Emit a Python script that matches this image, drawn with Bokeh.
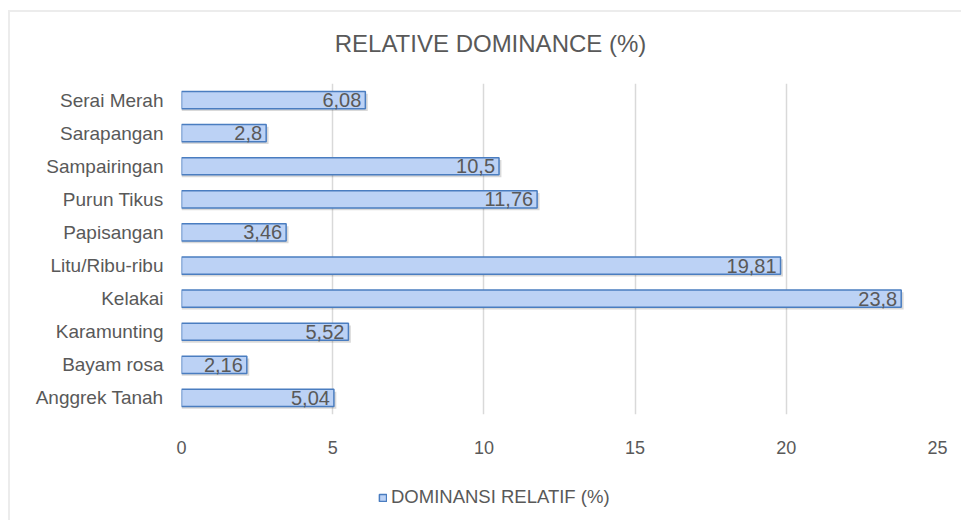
from bokeh.plotting import figure
from bokeh.models import ColumnDataSource, Legend, LegendItem, FactorRange, Range1d, Label
from bokeh.layouts import column
from bokeh.transform import dodge
from bokeh.core.properties import value
from bokeh.embed import file_html
from bokeh.resources import INLINE

# Data
species = ["Anggrek Tanah", "Bayam rosa", "Karamunting", "Kelakai", "Litu/Ribu-ribu",
           "Papisangan", "Purun Tikus", "Sampairingan", "Sarapangan", "Serai Merah"]
dominance = [5.04, 2.16, 5.52, 23.8, 19.81, 3.46, 11.76, 10.5, 2.8, 6.08]
x_ticks = [0, 5, 10, 15, 20, 25]
title_text = "RELATIVE DOMINANCE (%)"
series_name = "DOMINANSI RELATIF (%)"

labels = [("%g" % v).replace(".", ",") for v in dominance]
src = ColumnDataSource(dict(y=species, x=dominance, lab=labels,
                            xs=[v + 0.08 for v in dominance]))

FONT = "Liberation Sans"
GRAY = "#595959"
BAR_FILL = "#bcd2f5"
BAR_LINE = "#4a7dc0"


def strip(h):
    f = figure(width=951, height=h, x_range=Range1d(0, 1), y_range=Range1d(0, 1),
               output_backend="svg", toolbar_location=None, x_axis_type=None,
               y_axis_type=None, min_border=0)
    f.outline_line_color = None
    f.grid.visible = False
    return f


# title strip
p0 = strip(71)
p0.add_layout(Label(x=309, y=40, x_units="screen", y_units="screen", text=title_text,
                    text_align="center", text_baseline="middle", text_font=FONT,
                    text_font_size="24px", text_color=GRAY))

# main chart
p = figure(width=951, height=387, y_range=FactorRange(*species), x_range=Range1d(0, 25),
           output_backend="svg", toolbar_location=None,
           min_border_left=171, min_border_right=24, min_border_top=0, min_border_bottom=56)
p.outline_line_color = None
p.background_fill_color = "white"
p.border_fill_color = "white"

p.ygrid.grid_line_color = None
p.xgrid.grid_line_color = "#d9d9d9"
p.xgrid.grid_line_width = 1.5
p.xaxis.ticker = x_ticks

for ax in (p.xaxis, p.yaxis):
    ax.axis_line_color = None
    ax.major_tick_line_color = None
    ax.minor_tick_line_color = None
    ax.major_label_text_font = FONT
    ax.major_label_text_color = GRAY
p.xaxis.major_label_text_font_size = "18px"
p.yaxis.major_label_text_font_size = "19px"
p.xaxis.major_label_standoff = 20
p.yaxis.major_label_standoff = 12

# shadow
p.hbar(y=dodge("y", -0.07, range=p.y_range), right="xs", left=0, height=0.52,
       source=src, fill_color="#000000", fill_alpha=0.15, line_color=None)
p.hbar(y="y", right="x", left=0, height=0.52, source=src,
       fill_color=BAR_FILL, line_color=BAR_LINE, line_width=1.5)

p.text(x="x", y="y", text="lab", source=src, x_offset=-4, y_offset=0,
       text_align="right", text_baseline="middle", text_font=value(FONT),
       text_font_size="20px", text_color=GRAY)

# legend strip: key renderer uses the same data, but its range holds none of the
# categories, so no bar is drawn there -- only the legend key
p2 = figure(width=951, height=50, x_range=Range1d(-2, -1), y_range=FactorRange(series_name),
            output_backend="svg", toolbar_location=None, x_axis_type=None,
            y_axis_type=None, min_border=0)
p2.outline_line_color = None
p2.grid.visible = False
key = p2.hbar(y="y", right="x", left=0, height=0.52, source=src,
              fill_color=BAR_FILL, line_color=BAR_LINE, line_width=1.5)
legend = Legend(items=[LegendItem(label=series_name, renderers=[key])],
                location=(197, 12), orientation="horizontal",
                padding=0, margin=0, spacing=0,
                glyph_width=9, glyph_height=9, label_standoff=4, label_height=20,
                label_text_font=FONT, label_text_font_size="18.5px", label_text_color=GRAY,
                border_line_alpha=0, background_fill_alpha=0)
p2.add_layout(legend, "center")

layout = column(p0, p, p2, spacing=0)
layout.styles = {"margin-left": "8px", "margin-top": "10px",
                 "border-left": "2px solid #ececec", "border-top": "2px solid #ececec"}

open("out.html", "w").write(file_html(layout, INLINE))
